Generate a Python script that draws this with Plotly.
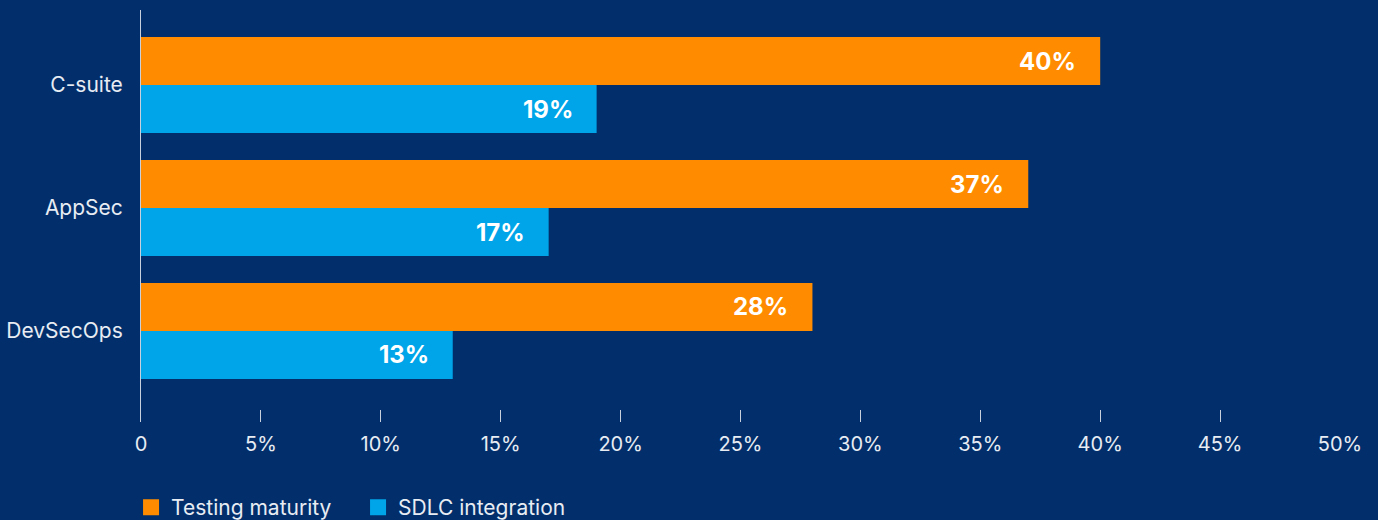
import plotly.graph_objects as go

categories = ["C-suite", "AppSec", "DevSecOps"]
testing_maturity = [40, 37, 28]
sdlc_integration = [19, 17, 13]
tick_vals = [0, 5, 10, 15, 20, 25, 30, 35, 40, 45, 50]
tick_text = ["0", "5%", "10%", "15%", "20%", "25%", "30%", "35%", "40%", "45%", "50%"]

BG = "#022f6b"
ORANGE = "#ff8c00"
BLUE = "#00a5e9"
TXT = "#e8ecf3"
FONT = "Inter"

fig = go.Figure()
fig.add_trace(go.Bar(y=categories, x=testing_maturity, orientation="h",
                     name="Testing maturity", marker_color=ORANGE,
                     marker_line_width=0, hoverinfo="skip", showlegend=False))
fig.add_trace(go.Bar(y=categories, x=sdlc_integration, orientation="h",
                     name="SDLC integration", marker_color=BLUE,
                     marker_line_width=0, hoverinfo="skip", showlegend=False))
# legend entries with larger square swatches
for name, col in [("Testing maturity", ORANGE), ("SDLC integration", BLUE)]:
    fig.add_trace(go.Scatter(x=[None], y=[None], mode="markers", name=name,
                             marker=dict(symbol="square", size=20, color=col),
                             showlegend=True, hoverinfo="skip"))

# value labels inside bar ends
for trace_i, vals in enumerate([testing_maturity, sdlc_integration]):
    for cat, v in zip(categories, vals):
        fig.add_annotation(x=v, y=cat, text=f"<b>{v}%</b>", showarrow=False,
                           xanchor="right", xshift=-22,
                           yshift=24 if trace_i == 0 else -24,
                           font=dict(family=FONT, size=24, color="white"))

fig.update_layout(
    width=1378, height=520,
    paper_bgcolor=BG, plot_bgcolor=BG,
    margin=dict(l=141, r=38, t=10, b=98, autoexpand=False),
    barmode="group", bargap=0.22, bargroupgap=0,
    font=dict(family=FONT, size=20, color=TXT),
    showlegend=True,
    legend=dict(orientation="h", x=-0.0083, xanchor="left", y=-0.158, yanchor="top",
                font=dict(family=FONT, size=21, color=TXT), entrywidth=182,
                bgcolor="rgba(0,0,0,0)", traceorder="normal"),
)
fig.update_xaxes(range=[0, 50], tickvals=tick_vals, ticktext=tick_text,
                 showgrid=False, zeroline=False, showline=False,
                 ticks="inside", ticklen=12, tickcolor="#c8d0de", tickwidth=1,
                 ticklabelstandoff=8,
                 tickfont=dict(family=FONT, size=20, color=TXT))
fig.update_yaxes(type="category", categoryorder="array", categoryarray=categories,
                 range=[2.74, -0.61], showgrid=False, zeroline=False,
                 showline=True, linecolor="#c8d0de", linewidth=1,
                 ticks="", ticklabelstandoff=13,
                 tickfont=dict(family=FONT, size=21, color=TXT))

fig.write_html("out.html")
